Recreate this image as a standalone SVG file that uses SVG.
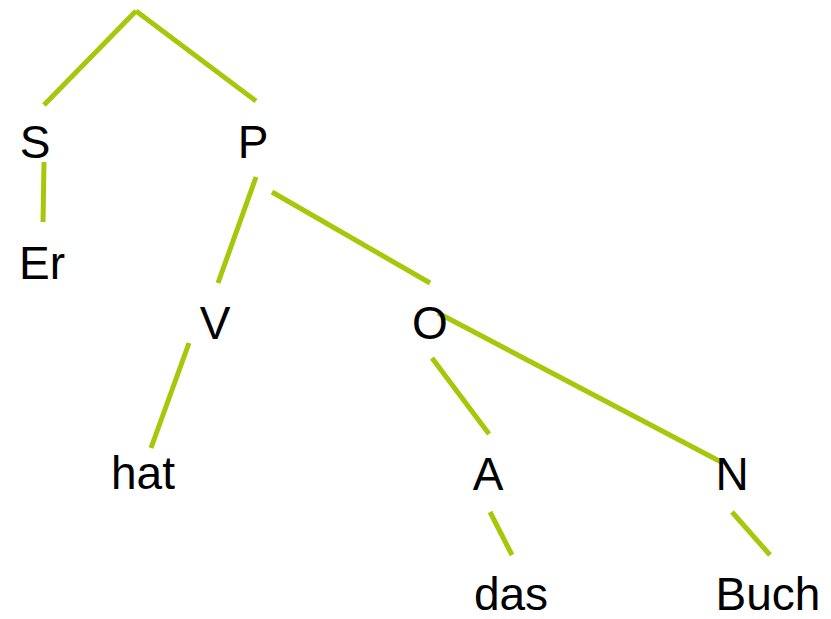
<svg xmlns="http://www.w3.org/2000/svg" width="831" height="619" viewBox="0 0 831 619">
  <style>
    .edge { stroke: #a5c80a; stroke-width: 5; fill: none; }
    .label { font-family: "Liberation Sans", Arial, sans-serif; font-size: 46px; fill: #000000; text-anchor: middle; }
  </style>
  <rect width="831" height="619" fill="#ffffff"/>
  <g id="connectors">
    <line class="edge" x1="44" y1="105" x2="136" y2="11"/>
    <line class="edge" x1="136" y1="11" x2="256" y2="101"/>
    <line class="edge" x1="44" y1="162" x2="43" y2="222"/>
    <line class="edge" x1="256" y1="177" x2="218" y2="283"/>
    <line class="edge" x1="272" y1="192" x2="430" y2="283"/>
    <line class="edge" x1="189" y1="343" x2="151" y2="448"/>
    <line class="edge" x1="432" y1="358" x2="489" y2="434"/>
    <line class="edge" x1="438" y1="313" x2="723" y2="463"/>
    <line class="edge" x1="490" y1="512" x2="512" y2="555"/>
    <line class="edge" x1="732" y1="512" x2="770" y2="555"/>
  </g>
  <g id="node-S"><text class="label" x="35" y="158">S</text></g>
  <g id="node-P"><text class="label" x="253" y="158">P</text></g>
  <g id="node-Er"><text class="label" x="42" y="279">Er</text></g>
  <g id="node-V"><text class="label" x="215" y="339">V</text></g>
  <g id="node-O"><text class="label" x="430" y="339">O</text></g>
  <g id="node-hat"><text class="label" x="143" y="489">hat</text></g>
  <g id="node-A"><text class="label" x="488" y="490">A</text></g>
  <g id="node-N"><text class="label" x="732" y="490">N</text></g>
  <g id="node-das"><text class="label" x="511" y="610">das</text></g>
  <g id="node-Buch"><text class="label" x="768" y="610">Buch</text></g>
</svg>
